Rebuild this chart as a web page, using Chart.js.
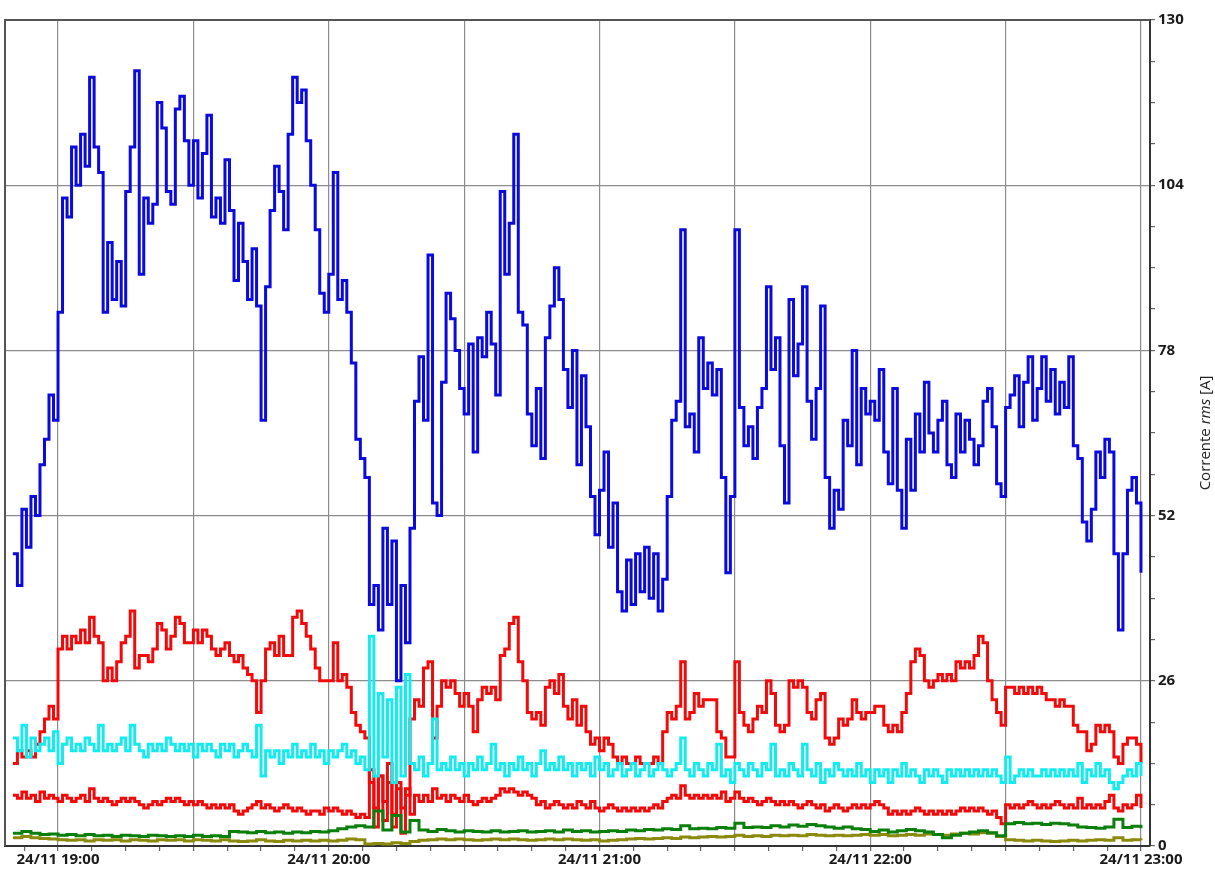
<!DOCTYPE html>
<html lang="it">
<head>
<meta charset="UTF-8">
<title>Corrente rms</title>
<script src="https://cdn.jsdelivr.net/npm/chart.js@4.4.1/dist/chart.umd.min.js"></script>
<style>
  html, body { margin: 0; padding: 0; background: #fff; }
  #wrap { width: 1215px; height: 873px; position: relative; }
</style>
</head>
<body>
<div id="wrap"><canvas id="chart"></canvas></div>
<script>
// time axis in minutes after 24/11 19:00
const xMin = -11.75;
const xMax = 242;
const hourMinutes = [0, 60, 120, 180, 240];
const hourLabels = ['24/11 19:00', '24/11 20:00', '24/11 21:00', '24/11 22:00', '24/11 23:00'];
const yTicksMajor = [0, 26, 52, 78, 104, 130];

// samples: start minute and step in minutes
const fastStart = -10, fastStep = 1;
const slowStart = -10, slowStep = 2;

const blueVals = [
  46,41,53,47,55,52,60,64,71,67,
  84,102,99,110,104,112,107,121,110,106,
  84,95,86,92,85,103,110,122,90,102,
  98,101,117,113,103,101,116,118,111,104,
  111,102,109,115,99,102,98,108,100,89,
  98,92,86,94,85,67,88,100,107,103,
  97,112,121,117,119,111,104,97,87,84,
  90,106,86,89,84,76,64,61,58,38,
  41,34,50,38,48,26,41,32,50,70,
  77,67,93,54,52,73,87,83,78,72,
  68,79,62,80,77,84,79,71,103,90,
  98,112,84,82,68,63,72,61,80,85,
  91,86,75,69,78,60,74,66,55,49,
  56,62,47,54,40,37,45,38,46,40,
  47,39,46,37,42,55,67,70,97,66,
  68,62,80,72,76,71,75,58,43,55,
  97,69,63,66,61,69,72,88,75,80,
  63,54,86,74,79,88,70,64,72,85,
  58,50,56,53,67,63,78,60,72,68,
  70,67,75,62,57,72,56,50,64,56,
  68,62,73,65,62,67,70,60,58,68,
  62,67,64,60,63,70,72,66,57,55,
  69,71,74,66,73,77,67,72,77,70,
  75,68,73,69,77,63,61,51,48,53,
  62,58,64,62,46,34,46,56,58,54,
  43
];

const redHighVals = [
  13,15,14,15,14,16,18,20,22,20,
  31,33,31,33,32,34,32,36,33,32,
  26,28,26,29,32,33,37,28,30,30,
  29,31,35,34,31,33,36,35,32,32,
  34,32,34,33,31,30,31,32,30,29,
  30,28,27,26,21,26,31,32,30,33,
  30,30,36,37,35,33,31,28,26,26,
  26,32,26,27,25,21,19,18,17,10,
  6,11,7,10,5,9,6,8,20,23,
  22,28,29,17,22,26,25,26,24,22,
  24,22,18,23,25,24,25,23,30,31,
  35,36,29,26,21,20,21,19,25,26,
  24,27,22,20,23,19,22,18,16,17,
  15,17,16,14,13,14,13,13,14,13,
  13,13,14,13,18,21,20,22,29,20,
  21,24,22,23,23,23,18,17,14,14,
  29,21,19,18,20,22,21,26,24,19,
  18,19,26,25,26,25,21,20,23,24,
  17,16,17,20,19,20,23,21,20,21,
  21,22,22,19,18,19,18,21,24,29,
  31,30,26,25,26,27,26,27,26,29,
  28,29,28,30,33,32,26,23,21,19,
  25,25,24,25,24,25,24,25,24,23,
  23,22,23,22,22,19,18,18,15,16,
  19,18,19,18,14,13,16,17,17,16,
  13
];

const cyanVals = [
  17,15,19,14,17,15,16,17,15,18,
  13,16,17,15,16,15,17,16,15,19,
  15,16,15,16,17,15,19,16,15,14,
  16,15,16,15,17,16,15,16,15,16,
  14,16,15,16,15,14,16,15,16,14,
  15,16,15,14,19,11,15,14,15,13,
  15,14,16,14,15,14,16,14,15,13,
  15,14,15,16,14,15,13,14,12,33,
  11,24,14,23,10,25,11,27,13,12,
  14,11,13,20,12,13,12,14,12,13,
  11,13,12,14,12,13,16,12,13,11,
  13,12,14,12,13,11,13,15,12,13,
  12,14,12,13,11,13,12,13,11,14,
  12,13,11,12,13,11,12,13,11,12,
  13,11,12,13,12,11,12,13,17,12,
  11,13,12,11,13,12,16,11,12,10,
  13,12,11,13,12,11,13,12,16,11,
  12,11,13,12,11,16,12,11,13,10,
  12,11,13,12,11,12,11,13,11,12,
  10,12,11,12,10,12,11,13,11,12,
  11,10,12,11,12,11,10,12,11,12,
  11,12,11,12,11,12,11,12,11,10,
  14,10,11,12,11,12,11,11,12,11,
  12,11,12,11,12,11,13,10,12,11,
  13,11,12,10,9,10,11,12,11,13,
  11
];

const redLowVals = [
  8,7.5,8.5,7.5,8,7,8.5,7.5,8,7.5,
  7,8,7.5,7,7.5,8,7,9,7.5,7,
  7.5,7,6.5,7,7.5,7,7.5,7,6.5,6,
  6.5,7,6.5,7,7.5,7,7.5,7,6.5,7,
  6.5,7,6.5,6,6.5,6,6.5,6,6.5,5.5,
  5,5.5,6,6.5,7,6,6.5,6,5.5,6,
  6.5,6,5.5,6,5.5,5,5.5,5.5,5,6,
  5.5,6,5.5,5,5.5,5,4.5,5,4.5,12,
  3,11,4,13,3,10,2,9,5,8,
  7,8,7,9,7.5,8,7,8,7.5,7,
  8,7,6.5,7,7.5,7,7.5,8,9,8.5,
  9,8.5,8,8.5,8,7.5,6.5,7,6,6.5,
  7,6.5,6,6.5,6,7,6.5,6,7,6,
  5.5,6,6.5,6,5.5,6,5.5,6,5.5,6,
  5.5,6,6.5,6,7,7.5,8,7.5,9.5,8,
  7.5,8,7.5,8,7.5,8,7.5,8.5,7,7.5,
  8.5,7.5,7,7.5,7,6.5,7,7.5,7,6.5,
  7,6.5,7,6.5,6,6.5,7,6.5,6,6.5,
  5.5,6,6.5,6,5.5,6,6.5,6,6.5,6,
  6.5,7,6.5,6,5,5.5,5,5.5,5,5.5,
  6,5.5,5,5.5,5,5.5,5,5.5,5,5.5,
  6,5.5,6,5.5,6,5.5,5,5.5,4.5,3.5,
  6.5,6,6.5,6,6.5,7,6.5,6,6.5,6,
  6.5,7,6.5,6,6.5,6,7.5,6,6.5,6,
  6.5,6,7,8,6,5.5,6.5,6,6.5,8,
  6
];

const greenVals = [
  2.0,2.3,2.0,1.8,1.9,1.7,1.8,1.6,1.8,1.6,
  1.7,1.5,1.7,1.6,1.5,1.7,1.6,1.5,1.6,1.5,
  1.7,1.5,1.6,1.5,2.3,2.2,2.1,2.3,2.1,2.2,
  2.0,2.2,2.1,2.3,2.2,2.4,2.7,3.0,3.2,3.0,
  5.5,2.5,4.8,2.2,4.0,2.5,2.3,2.6,2.4,2.2,
  2.4,2.3,2.2,2.4,2.2,2.3,2.4,2.2,2.3,2.4,
  2.2,2.5,2.3,2.4,2.2,2.3,2.4,2.3,2.5,2.4,
  2.6,2.5,2.7,2.6,3.2,2.7,2.8,2.7,2.9,2.8,
  3.6,2.9,3.0,2.9,3.2,3.0,3.3,3.1,3.4,3.2,
  3.0,2.8,3.0,2.7,2.6,2.3,2.5,2.2,2.4,2.6,
  2.4,2.2,1.8,1.3,1.7,2.0,2.2,2.4,2.1,1.6,
  3.5,3.7,3.5,3.6,3.4,3.6,3.5,3.3,3.0,2.9,
  2.8,3.0,4.2,2.9,3.1,2.8
];

const oliveVals = [
  1.3,1.5,1.3,1.2,1.1,1.0,0.9,1.0,0.8,1.0,
  0.9,1.0,0.8,1.0,0.9,0.8,1.0,0.9,1.0,0.8,
  1.0,0.9,0.8,1.0,0.8,0.7,0.8,1.0,0.8,0.7,
  0.9,0.8,0.9,0.8,0.9,0.8,0.9,1.1,1.0,0.3,
  0.4,0.3,0.5,0.4,0.7,0.9,1.0,1.1,1.0,1.1,
  1.0,0.9,1.0,1.1,1.0,1.1,1.0,0.9,1.0,1.1,
  1.0,1.1,1.0,0.9,1.0,0.8,0.9,1.0,1.1,1.2,
  1.1,1.2,1.3,1.2,1.4,1.3,1.4,1.5,1.4,1.5,
  1.7,1.5,1.6,1.5,1.7,1.6,1.7,1.6,1.8,1.7,
  1.6,1.7,1.6,1.7,1.8,1.7,1.8,1.6,1.7,1.8,
  1.7,1.9,1.8,1.7,1.9,2.0,1.9,2.1,2.0,1.5,
  1.0,0.9,0.8,0.9,0.8,0.7,0.8,0.9,0.8,0.9,
  1.0,0.9,1.3,0.9,1.0,0.9
];

function toPoints(vals, start, step) {
  return vals.map((v, i) => ({ x: start + i * step, y: v }));
}

function line(data, color) {
  return {
    data: data,
    borderColor: color,
    borderWidth: 3,
    pointRadius: 0,
    stepped: true,
    fill: false
  };
}

// first dataset is drawn on top
const datasets = [
  line(toPoints(cyanVals, fastStart, fastStep), '#12ecf0'),
  line(toPoints(greenVals, slowStart, slowStep), '#0b7f0b'),
  line(toPoints(oliveVals, slowStart, slowStep), '#8c8a0c'),
  line(toPoints(redLowVals, fastStart, fastStep), '#f20a0a'),
  line(toPoints(redHighVals, fastStart, fastStep), '#f20a0a'),
  line(toPoints(blueVals, fastStart, fastStep), '#0a0ae0')
];

const frame = {
  id: 'frame',
  beforeDatasetsDraw(chart) {
    const a = chart.chartArea, c = chart.ctx;
    c.save();
    c.strokeStyle = '#555';
    c.lineWidth = 2;
    c.beginPath();
    c.moveTo(a.left, a.bottom);
    c.lineTo(a.left, a.top);
    c.lineTo(a.right, a.top);
    c.stroke();
    c.restore();
  },
  afterDraw(chart) {
    const c = chart.ctx;
    const parts = [
      { t: 'Corrente ', f: '15px "Open Sans"' },
      { t: 'rms', f: 'italic 15px "Open Sans"' },
      { t: ' [A]', f: '15px "Open Sans"' }
    ];
    c.save();
    let total = 0;
    parts.forEach(p => { c.font = p.f; p.w = c.measureText(p.t).width; total += p.w; });
    c.translate(1206, 433);
    c.rotate(-Math.PI / 2);
    c.fillStyle = '#222';
    c.textBaseline = 'middle';
    let x = -total / 2;
    parts.forEach(p => { c.font = p.f; c.fillText(p.t, x, 0); x += p.w; });
    c.restore();
  }
};

new Chart(document.getElementById('chart'), {
  type: 'line',
  data: { datasets: datasets },
  options: {
    responsive: true,
    maintainAspectRatio: false,
    animation: false,
    parsing: false,
    normalized: true,
    layout: { padding: { left: 5, top: 20, right: 0, bottom: 0 } },
    plugins: { legend: { display: false }, tooltip: { enabled: false } },
    scales: {
      x: {
        type: 'linear',
        min: xMin,
        max: xMax,
        afterBuildTicks: axis => {
          const t = [];
          for (let v = -7.5; v <= 240; v += 7.5) t.push({ value: v });
          axis.ticks = t;
        },
        afterFit: axis => { axis.height = 27; },
        ticks: {
          autoSkip: false,
          maxRotation: 0,
          padding: 0,
          color: '#1a1a1a',
          font: { family: 'Open Sans', size: 15, weight: 'bold' },
          callback: v => {
            const i = hourMinutes.indexOf(v);
            return i >= 0 ? hourLabels[i] : '';
          }
        },
        grid: {
          color: ctx => (ctx.tick && ctx.tick.value % 30 === 0) ? '#8c8c8c' : 'rgba(0,0,0,0)',
          tickColor: '#666',
          tickLength: 5,
          lineWidth: 1.2
        },
        border: { color: '#333', width: 2 }
      },
      y: {
        position: 'right',
        min: 0,
        max: 130,
        afterBuildTicks: axis => {
          const t = [];
          for (let v = 0; v <= 130; v += 6.5) t.push({ value: v });
          axis.ticks = t;
        },
        afterFit: axis => { axis.width = 65; },
        ticks: {
          autoSkip: false,
          padding: 3,
          color: '#1a1a1a',
          font: { family: 'Open Sans', size: 15, weight: 'bold' },
          callback: v => yTicksMajor.includes(v) ? String(v) : ''
        },
        grid: {
          color: ctx => (ctx.tick && ctx.tick.value % 26 === 0) ? '#8c8c8c' : 'rgba(0,0,0,0)',
          tickColor: '#666',
          tickLength: 5,
          lineWidth: 1.2
        },
        border: { color: '#333', width: 2 }
      }
    }
  },
  plugins: [frame]
});
</script>
</body>
</html>
